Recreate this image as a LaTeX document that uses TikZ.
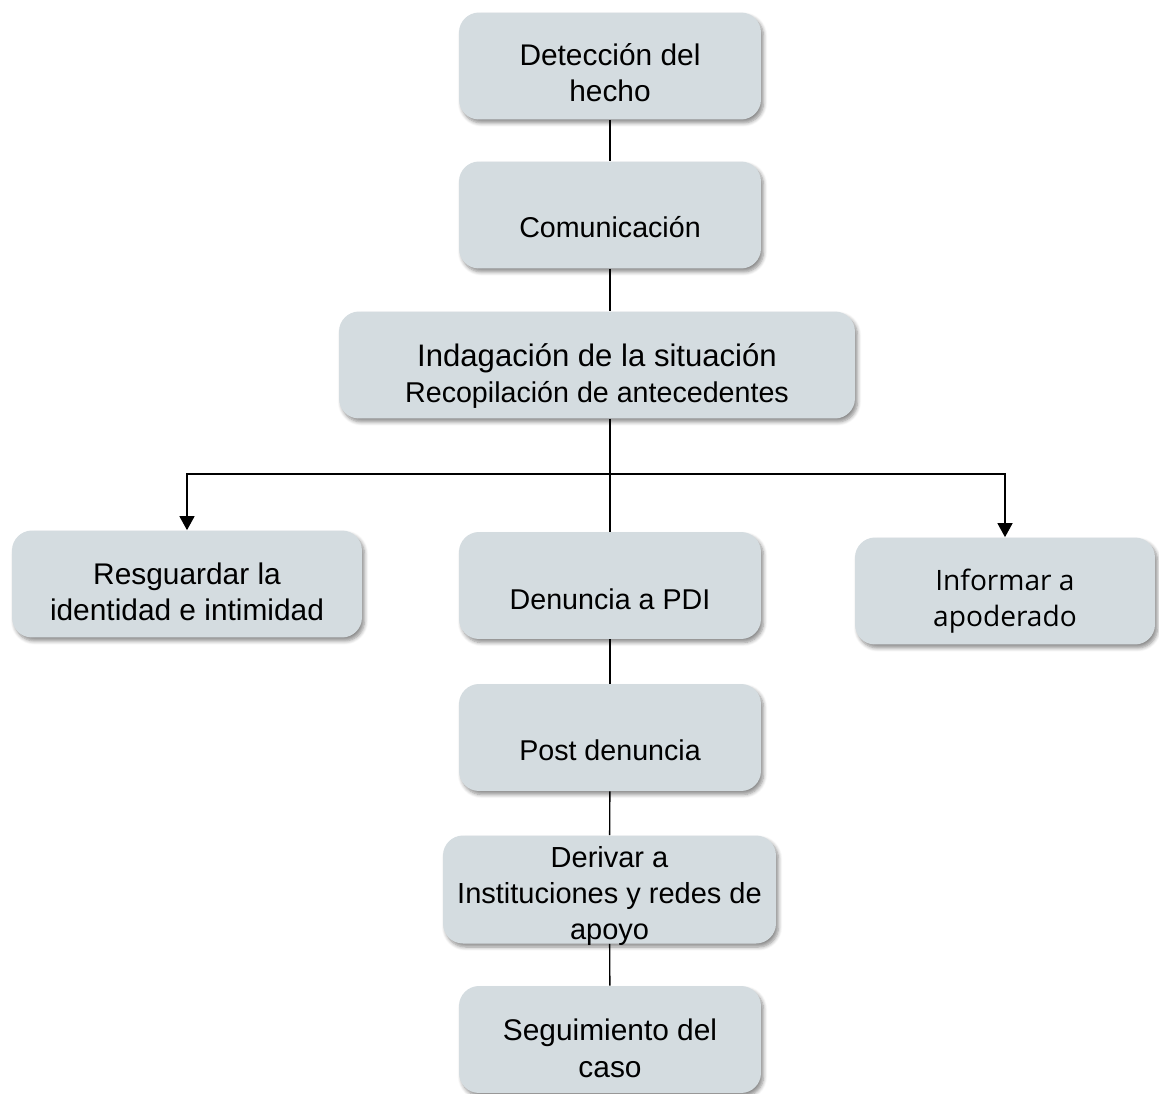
\documentclass[tikz,border=0pt]{standalone}
\usepackage{fontspec}
\setmainfont{Liberation Sans}
\newfontfamily\softfont{Open Sans}
\usetikzlibrary{arrows.meta,shadows.blur}
\definecolor{ink}{HTML}{000000}
\definecolor{stepfill}{HTML}{D4DCE0}
\newcommand{\stepfont}{\fontsize{17}{20.5}\selectfont}
\newcommand{\minorfont}{\fontsize{16.3}{20.5}\selectfont}
\newcommand{\leadfont}{\fontsize{17.7}{20.5}\selectfont}
\tikzset{
 every node/.append style={font=\stepfont,text=ink,align=center},
 box/.style={fill=stepfill,rounded corners=.4cm,minimum width=6.04cm,minimum height=2.14cm,inner sep=2pt,
   blur shadow={shadow xshift=.5mm,shadow yshift=-.7mm,shadow blur steps=6,shadow opacity=45}},
 low/.style={text height=#1,text depth=0pt},
 link/.style={draw=ink,line width=.8pt},
 down/.style={link,-{Triangle[length=2.8mm,width=3mm]}},
}

\begin{document}
\begin{tikzpicture}[x=.02cm,y=-.02cm]

\useasboundingbox (0,0) rectangle (1159,1094);
\node[box,low=1.44cm] (detect) at (610,66) {Detección del\\hecho};
\node[box,low=.92cm,font=\minorfont] (comm) at (610,215) {Comunicación};
\node[box,low=1.5cm,minimum width=10.32cm] (indag) at (597,365) {{\leadfont Indagación de la situación}\\{\minorfont Recopilación de antecedentes}};
\coordinate (fork) at (610,474);
\node[box,low=1.46cm,minimum width=7cm] (resg) at (187,584) {Resguardar la\\identidad e intimidad};
\node[box,low=.96cm,font=\minorfont] (denun) at (610,585.5) {Denuncia a PDI};
\node[box,low=1.44cm,minimum width=6cm,font={\softfont\fontsize{16}{20.5}\selectfont}] (inform) at (1005,591) {Informar a\\apoderado};
\node[box,low=.9cm,font=\minorfont] (post) at (610,737.5) {Post denuncia};
\node[box,low=2.02cm,minimum width=6.66cm,font={\fontsize{16.5}{20.5}\selectfont}] (deriv) at (609.5,889.5) {Derivar a\\Instituciones y redes de\\apoyo};
\node[box,low=1.5cm] (segui) at (610,1039.5) {Seguimiento del\\caso};
\draw[link] (detect) -- (comm);
\draw[link] (comm.south) -- (comm.south |- indag.north);
\draw[link] (indag.south -| fork) -- (denun.north);
\draw[down] (fork) -| (resg.north);
\draw[down] (fork) -| (inform.north);
\draw[link] (denun) -- (post);
\draw[link] (post) -- (deriv);
\draw[link] (deriv) -- (segui);
\end{tikzpicture}
\end{document}
